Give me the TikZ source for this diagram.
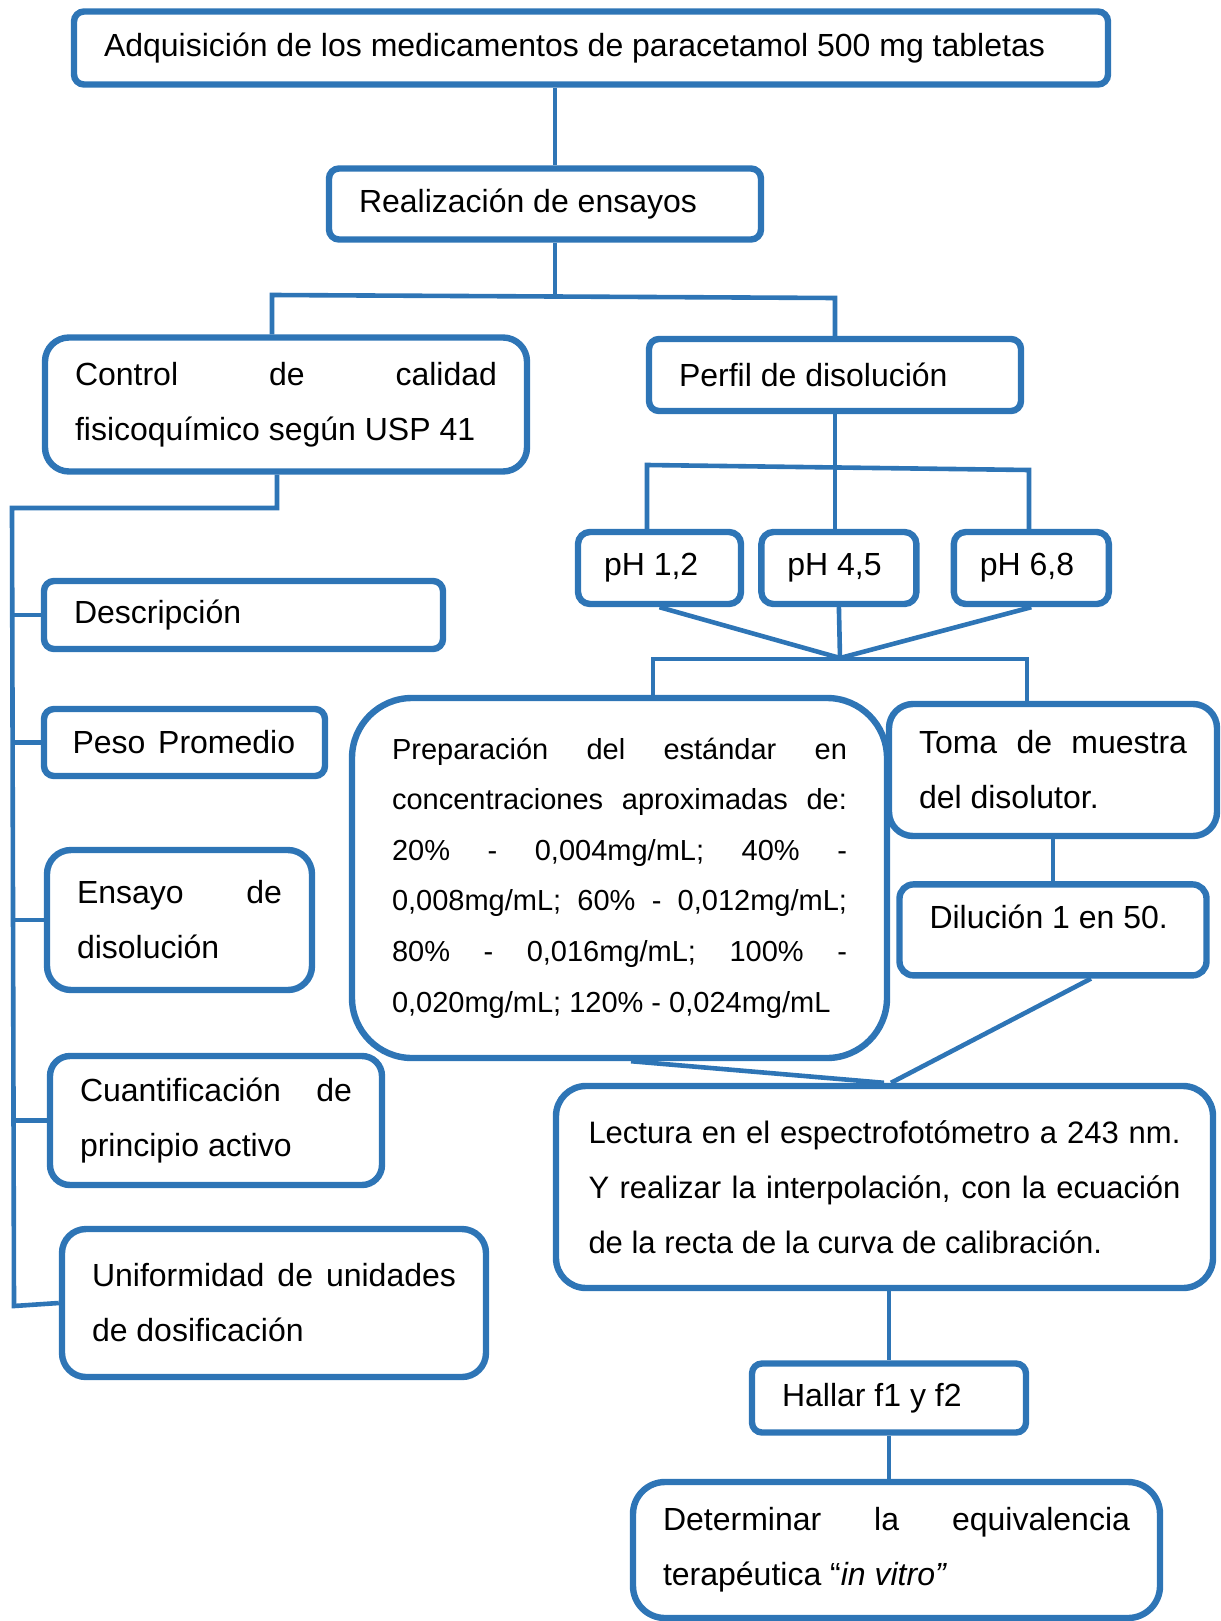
\documentclass[tikz,border=0pt]{standalone}
\usepackage{fontspec}
\setmainfont{Liberation Sans}
\usepackage{tikz}
\usetikzlibrary{positioning,calc}
\definecolor{boxblue}{RGB}{46,117,182}
\newcommand{\jl}[1]{{\spaceskip=0pt\relax\xspaceskip=0pt\relax\makebox[\hsize][s]{#1}}}
\tikzset{
  x=0.5pt,y=-0.5pt,
  rectnode/.style args={#1,#2,#3}{
  draw=boxblue,
  line width=3.2pt,
  rounded corners=#3,
  text width=#1,
  minimum height=#2,
  inner xsep=15pt,
  inner ysep=0pt,
  align=flush left,
  font=\fontsize{16}{27.5}\selectfont
  },
  link/.style={draw=boxblue,line width=2.3pt}
}

\begin{document}
\begin{tikzpicture}
  \useasboundingbox (0,0) rectangle (1220,1621);

  % upper part
  \node[rectnode={487pt,36.5pt,5pt}] (buy) at (591,48) {Adquisición de los medicamentos de paracetamol 500 mg tabletas};
  \node[rectnode={186pt,35.5pt,5pt}] (tests) at (545,204) {Realización de ensayos};
  \node[rectnode={211pt,67pt,12pt}] (qc) at (286,404.5) {\jl{Control de calidad}\\fisicoquímico según USP 41};
  \node[rectnode={156pt,36pt,5pt}] (prof) at (835,375) {Perfil de disolución};

  \node[rectnode={55.5pt,36pt,6pt},inner xsep=13pt] (ph1) at (659.5,568) {pH 1,2};
  \node[rectnode={51.5pt,36pt,6pt},inner xsep=13pt,right=7pt of ph1] (ph2) {pH 4,5};
  \node[rectnode={51.5pt,36pt,6pt},inner xsep=13pt,right=15.5pt of ph2] (ph3) {pH 6,8};

  % physicochemical tests
  \node[rectnode={169.5pt,34pt,5pt}] (desc) at (243.5,615) {Descripción};
  \node[rectnode={112pt,33.5pt,5pt},inner xsep=14.25pt] (mass) at (184.5,742.5) {\mbox{Peso\hspace{0.4em}Promedio}};
  \node[rectnode={102.5pt,70pt,12pt}] (diss) at (179.5,920) {\jl{Ensayo de}\\disolución};
  \node[rectnode={136pt,64.5pt,10pt}] (assay) at (216,1120.5) {\jl{Cuantificación de}\\principio activo};
  \node[rectnode={182pt,74pt,12pt}] (unif) at (274,1303) {\jl{Uniformidad de unidades}\\de dosificación};

  % dissolution profile
  \node[rectnode={227.5pt,180pt,30pt},inner xsep=20pt,font=\fontsize{14.5}{25.3}\selectfont] (std) at (619.5,878)
    {\jl{Preparación del estándar en}\\\jl{concentraciones aproximadas de:}\\\jl{20\% - 0,004mg/mL; 40\% -}\\
     \jl{0,008mg/mL; 60\% - 0,012mg/mL;}\\\jl{80\% - 0,016mg/mL; 100\% -}\\0,020mg/mL; 120\% - 0,024mg/mL};
  \node[rectnode={134pt,66pt,12pt}] (take) at (1053,770) {\jl{Toma de muestra}\\del disolutor.};
  \node[rectnode={123.5pt,45.5pt,7pt},text depth=13pt,below=21pt of take] (dil) {Dilución 1 en 50.};
  \node[rectnode={296pt,101pt,15pt},inner xsep=16.25pt,font=\fontsize{15.5}{27.4}\selectfont] (read) at (884.5,1187)
    {\jl{Lectura en el espectrofotómetro a 243 nm.}\\\jl{Y realizar la interpolación, con la ecuación}\\de la recta de la curva de calibración.};
  \node[rectnode={107pt,34.5pt,5pt}] (f12) at (889,1398) {Hallar f1 y f2};
  \node[rectnode={233.5pt,68pt,16pt}] (equiv) at (896.5,1550) {\jl{Determinar la equivalencia}\\terapéutica “\textit{in vitro”}};

  % connectors
  \coordinate (c1) at (555,295);
  \coordinate (c2) at (272,295);
  \coordinate (c3) at (835,298);
  \draw[link] (buy.south -| c1) -- (tests.north -| c1);
  \draw[link] (tests.south -| c1) -- (c1);
  \draw[link] (qc.north -| c2) -- (c2) -- (c3) -- (prof.north -| c3);

  \coordinate (b1) at (277,508);
  \coordinate (b2) at (12,508);
  \coordinate (b3) at (14,1306);
  \draw[link] (qc.south -| b1) -- (b1) -- (b2) -- (b3) -- (unif.west);
  \foreach \n in {desc,mass,diss,assay}
    \draw[link] (\n.west) -- (\n.west -| b2);

  \coordinate (p1) at (647,465);
  \coordinate (p2) at (1029,470);
  \draw[link] (prof.south) -- (prof.south |- ph2.north);
  \draw[link] (ph1.north -| p1) -- (p1) -- (p2) -- (ph3.north -| p2);

  \coordinate (m) at (840,658);
  \foreach \n in {ph1,ph2,ph3}
    \draw[link] (\n.south) -- (m);
  \coordinate (m1) at (653,659);
  \coordinate (m2) at (1027,659);
  \draw[link] (std.north -| m1) -- (m1) -- (m2) -- (take.north -| m2);

  \draw[link] (take.south) -- (dil.north);
  \coordinate (r1) at (1091,0);
  \coordinate (r2) at (891,0);
  \coordinate (r3) at (631,0);
  \coordinate (r4) at (884,0);
  \draw[link] (dil.south -| r1) -- (read.north -| r2);
  \draw[link] (std.south -| r3) -- (read.north -| r4);
  \draw[link] (read.south -| f12.north) -- (f12.north);
  \draw[link] (f12.south) -- (equiv.north -| f12.south);
\end{tikzpicture}
\end{document}
